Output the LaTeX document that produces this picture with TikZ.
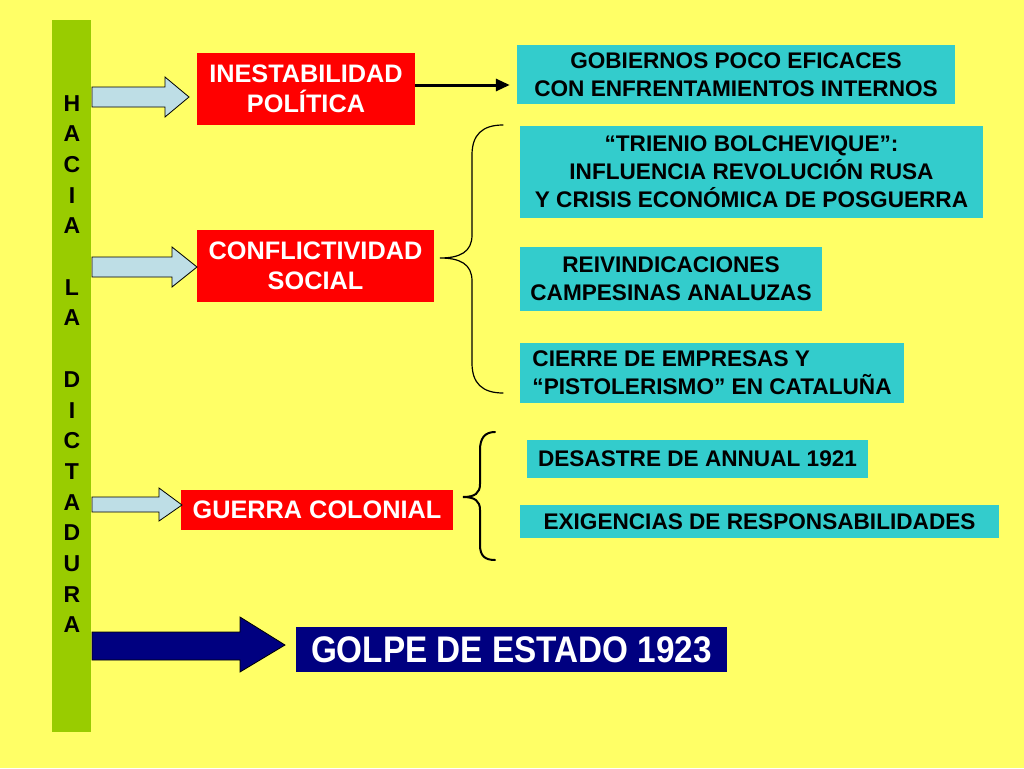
\documentclass[tikz,border=0pt]{standalone}
\usepackage{fontspec}
\setmainfont{Liberation Sans}
\newfontfamily\narrowfont[FakeStretch=0.9]{Liberation Sans}
\usetikzlibrary{arrows.meta,calc}
\definecolor{bgyellow}{RGB}{255,255,102}
\definecolor{barGreen}{RGB}{153,204,0}
\definecolor{boxRed}{RGB}{255,0,0}
\definecolor{boxTeal}{RGB}{51,204,204}
\definecolor{navyC}{RGB}{0,0,128}
\definecolor{arrowBlue}{RGB}{190,222,230}
\begin{document}
\begin{tikzpicture}[x=1pt,y=-1pt,
  redbox/.style={fill=boxRed,text=white,inner sep=0pt,align=center,
    font=\fontsize{25.3}{30}\selectfont\bfseries},
  tealbox/.style={fill=boxTeal,text=black,inner sep=0pt,align=center,
    font=\fontsize{22.6}{28}\selectfont\bfseries},
  blockarrow/.style={draw=black,line width=0.8pt,fill=arrowBlue},
  bigarrow/.style={draw=black,line width=0.8pt,fill=navyC},
  bracestyle/.style={draw=black,line cap=round}]
\useasboundingbox (0,0) rectangle (1024,768);
\fill[bgyellow] (0,0) rectangle (1024,768);

% green bar
\node[fill=barGreen,minimum width=39pt,minimum height=712pt,inner sep=0pt] (bar) at (71.5,376) {};
\node[font=\fontsize{23}{30.7}\selectfont\bfseries,align=center,inner sep=0pt,anchor=north] (letters) at (72,95)
 {H\\A\\C\\I\\A\\\mbox{}\\L\\A\\\mbox{}\\D\\I\\C\\T\\A\\D\\U\\R\\A};

% red boxes
\node[redbox,minimum width=218pt,minimum height=72pt] (ines) at (306,89) {INESTABILIDAD\\POLÍTICA};
\node[redbox,minimum width=237pt,minimum height=72pt] (conf) at (315.5,266) {CONFLICTIVIDAD\\SOCIAL};
\node[redbox,minimum width=272pt,minimum height=40pt] (guer) at (317,510) {GUERRA COLONIAL};

% teal boxes
\node[tealbox,minimum width=438pt,minimum height=59pt] (gob) at (736,74.5) {GOBIERNOS POCO EFICACES\\CON ENFRENTAMIENTOS INTERNOS};
\node[tealbox,minimum width=463pt,minimum height=92pt] (trie) at (751.5,172) {“TRIENIO BOLCHEVIQUE”:\\INFLUENCIA REVOLUCIÓN RUSA\\Y CRISIS ECONÓMICA DE POSGUERRA};
\node[tealbox,minimum width=302pt,minimum height=64pt] (reiv) at (671,279) {REIVINDICACIONES\\CAMPESINAS ANALUZAS};
\node[tealbox,minimum width=384pt,minimum height=60pt,align=left] (cier) at (712,373) {CIERRE DE EMPRESAS Y\\“PISTOLERISMO” EN CATALUÑA};
\node[tealbox,minimum width=341pt,minimum height=38pt] (desa) at (697.5,459) {DESASTRE DE ANNUAL 1921};
\node[tealbox,minimum width=479pt,minimum height=33pt] (exig) at (759.5,521.5) {EXIGENCIAS DE RESPONSABILIDADES};

% title
\node[fill=navyC,text=white,minimum width=431pt,minimum height=45pt,inner sep=0pt,
  font=\fontsize{37}{40}\selectfont\narrowfont\bfseries] (golpe) at (511.5,649.5) {GOLPE DE ESTADO 1923};

% block arrows
\draw[blockarrow] (92,87) -- (165,87) -- (165,77) -- (189,97) -- (165,117) -- (165,107) -- (92,107) -- cycle;
\draw[blockarrow] (92,257) -- (172,257) -- (172,247) -- (197,267) -- (172,287) -- (172,277) -- (92,277) -- cycle;
\draw[blockarrow] (92,497) -- (159,497) -- (159,488) -- (182,505) -- (159,521) -- (159,512) -- (92,512) -- cycle;
\draw[bigarrow] (92,632) -- (240,632) -- (240,617) -- (285,645) -- (240,672) -- (240,660) -- (92,660) -- cycle;

% black arrow
\draw[line width=3pt,-{Triangle[length=14pt,width=12pt]}] ($(ines.east)+(0,-4)$) -- ($(gob.west |- ines.east)+(-7,-4)$);

% braces
\draw[bracestyle,line width=1.2pt] (503,125) .. controls (482,125) and (472,135) .. (472,155) -- (472,235)
  .. controls (472,252) and (460,258) .. (440,258) .. controls (460,258) and (472,264) .. (472,281)
  -- (472,363) .. controls (472,383) and (482,393) .. (503,393);
\draw[bracestyle,line width=2pt] (495,432) .. controls (485,432) and (480,438) .. (480,450) -- (480,484)
  .. controls (480,493) and (475,497) .. (463,497) .. controls (475,497) and (480,501) .. (480,510)
  -- (480,545) .. controls (480,556) and (485,560) .. (495,560);
\end{tikzpicture}
\end{document}
